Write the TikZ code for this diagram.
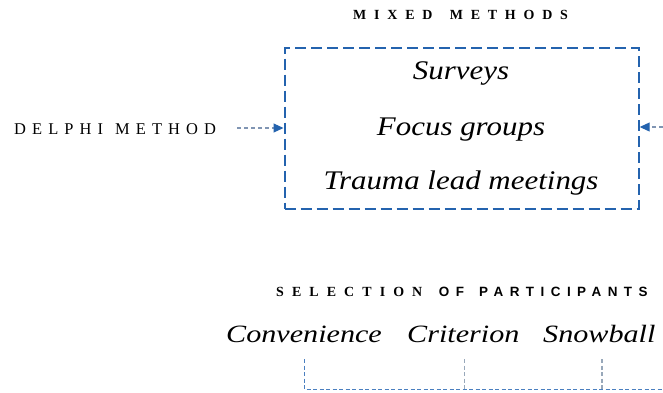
\documentclass[tikz,border=0pt]{standalone}
\usepackage{fontspec}
\usepackage{graphicx}
\setmainfont{Liberation Serif}
\setsansfont{Liberation Sans}
\usetikzlibrary{arrows.meta}
\definecolor{boxblue}{HTML}{2463AE}
\definecolor{arrowline}{HTML}{8095B3}
\definecolor{linkblue}{HTML}{4A7FC0}
\definecolor{linkgray}{HTML}{98A8BA}
\tikzset{
  capslabel/.style={inner sep=0pt, anchor=base west},
  itemtext/.style={inner sep=0pt, anchor=base, font=\fontsize{27}{30}\selectfont\itshape},
  choicetext/.style={inner sep=0pt, anchor=base west},
  methodbox/.style={draw=boxblue, line width=2.2bp, dash pattern=on 11bp off 5bp},
  feedarrow/.style={draw=arrowline, line width=1.1bp, dash pattern=on 4bp off 3bp,
    -{Triangle[length=10bp,width=9bp,color=boxblue]}},
  linkblueline/.style={draw=linkblue, line width=1.2bp, dash pattern=on 4bp off 2.5bp},
  linkgrayline/.style={draw=linkgray, line width=1.2bp, dash pattern=on 4bp off 2.5bp}
}
\newcommand{\wideit}[1]{\scalebox{1.21}[1]{\fontsize{25}{28}\selectfont\itshape #1}}
\newcommand{\wideitbox}[1]{\scalebox{1.15}[1]{#1}}
\begin{document}
\begin{tikzpicture}[x=1bp,y=-1bp]
\useasboundingbox (0,0) rectangle (663,392);
% title
\node[capslabel] (mixed) at (353,19.7) {\fontsize{14}{15}\selectfont\bfseries\addfontfeature{LetterSpace=56}MIXED\hspace{6bp} METHODS};
% box
\node[methodbox, minimum width=354bp, minimum height=161bp, inner sep=0pt, anchor=north west] (box) at (283.5,46.5) {};
\node[itemtext] (surveys) at (461,79) {\wideitbox{Surveys}};
\node[itemtext] (focus) at (461,135) {\wideitbox{Focus groups}};
\node[itemtext] (trauma) at (461,189) {\wideitbox{Trauma lead meetings}};
% delphi
\node[capslabel] (delphi) at (14,134) {\fontsize{16.5}{18}\selectfont\addfontfeature{LetterSpace=37}DELPHI\hspace{2bp} METHOD};
\coordinate (lstart) at (237,128);
\coordinate (rstart) at (663,127);
\draw[feedarrow] (lstart) -- (box.west |- lstart);
\draw[feedarrow] (rstart) -- (box.east |- rstart);
% selection
\node[capslabel] (selection) at (276,296) {\fontsize{14}{15}\selectfont\bfseries\addfontfeature{LetterSpace=58}SELECTION\hspace{5bp} {\fontsize{13.5}{15}\selectfont\sffamily\addfontfeature{LetterSpace=48}OF\hspace{5bp} PARTICIPANTS}};
\node[choicetext] (conv) at (226,342) {\wideit{Convenience}};
\node[choicetext] (crit) at (407,342) {\wideit{Criterion}};
\node[choicetext] (snow) at (543,342) {\wideit{Snowball}};
% links
\coordinate (c1) at (304.5,359);
\coordinate (c2) at (464.5,359);
\coordinate (c3) at (602,359);
\coordinate (b1) at (304.5,389.5);
\coordinate (b2) at (464.5,389.5);
\coordinate (b3) at (602,389.5);
\coordinate (bend) at (663,389.5);
\draw[linkblueline] (c1) -- (b1) -- (bend);
\draw[linkgrayline] (c2) -- (b2);
\draw[linkgrayline] (c3) -- (b3);
\end{tikzpicture}
\end{document}
